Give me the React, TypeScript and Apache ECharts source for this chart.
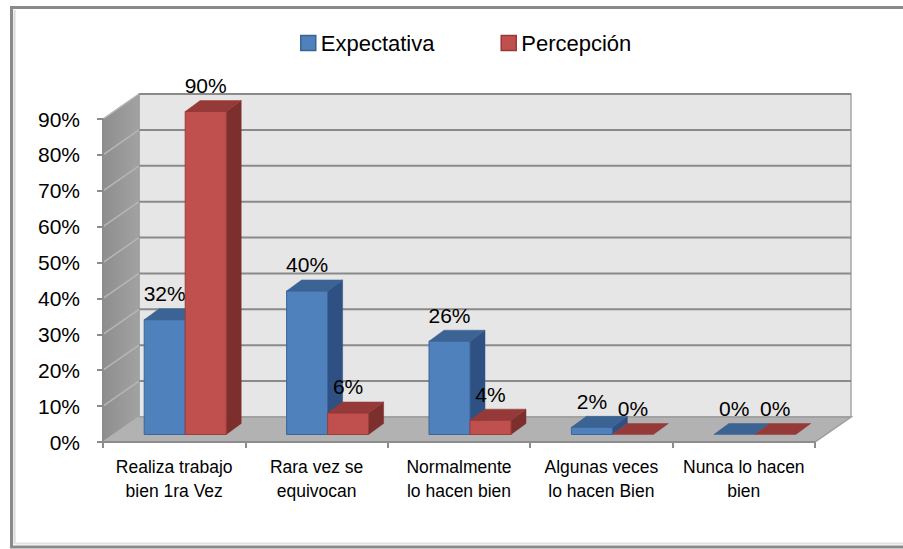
import React, { useEffect, useRef } from 'react';
import * as echarts from 'echarts';

const categories = [
  'Realiza trabajo\nbien 1ra Vez',
  'Rara vez se\nequivocan',
  'Normalmente\nlo hacen bien',
  'Algunas veces\nlo hacen Bien',
  'Nunca lo hacen\nbien',
];
const seriesNames = ['Expectativa', 'Percepción'];
const expectativa = [32, 40, 26, 2, 0];
const percepcion = [90, 6, 4, 0, 0];
const yMin = 0;
const yMax = 90;
const yStep = 10;

const FONT = '"Liberation Sans", Arial, sans-serif';
// 3D geometry (pixels)
const WALL_DX = 36;
const WALL_DY = -25;
const BAR_OFF_X = 11;
const BAR_OFF_Y = -7.5;
const BAR_DX = 15;
const BAR_DY = -11;
const BAR_W_RATIO = 41 / 142.4;
const LABEL_GAP = 26;

const palettes = [
  { front: '#4F81BD', top: '#3B6393', side: '#2F5082', stroke: '#3A659A' },
  { front: '#C0504D', top: '#953A38', side: '#7D2F2D', stroke: '#9B3D3A' },
];

function renderWalls(_params: any, api: any) {
  const band = api.size([1, 0])[0];
  const x0 = api.coord([0, yMin])[0] - band / 2;
  const x1 = api.coord([categories.length - 1, yMin])[0] + band / 2;
  const yB = api.coord([0, yMin])[1];
  const yT = api.coord([0, yMax])[1];
  const children: any[] = [];
  children.push({
    type: 'polygon',
    shape: { points: [[x0 + WALL_DX, yT + WALL_DY], [x1 + WALL_DX, yT + WALL_DY], [x1 + WALL_DX, yB + WALL_DY], [x0 + WALL_DX, yB + WALL_DY]] },
    style: { fill: '#E6E6E6', stroke: '#A8A8A8', lineWidth: 1.5 },
  });
  children.push({
    type: 'polygon',
    shape: { points: [[x0, yT], [x0 + WALL_DX, yT + WALL_DY], [x0 + WALL_DX, yB + WALL_DY], [x0, yB]] },
    style: {
      fill: new echarts.graphic.LinearGradient(0, 0, 1, 0, [
        { offset: 0, color: '#8E8E8E' },
        { offset: 1, color: '#A2A2A2' },
      ]),
      stroke: '#9A9A9A',
      lineWidth: 1,
    },
  });
  children.push({
    type: 'polygon',
    shape: { points: [[x0, yB], [x1, yB], [x1 + WALL_DX, yB + WALL_DY], [x0 + WALL_DX, yB + WALL_DY]] },
    style: { fill: '#B2B2B2', stroke: '#9C9C9C', lineWidth: 1.5 },
  });
  for (let v = yMin; v <= yMax; v += yStep) {
    const y = api.coord([0, v])[1];
    if (v > yMin) {
      children.push({
        type: 'line',
        shape: { x1: x0 + WALL_DX, y1: y + WALL_DY, x2: x1 + WALL_DX, y2: y + WALL_DY },
        style: { stroke: '#8A8A8A', lineWidth: 2 },
      });
    }
    children.push({
      type: 'line',
      shape: { x1: x0, y1: y, x2: x0 + WALL_DX, y2: y + WALL_DY },
      style: { stroke: '#B6B6B6', lineWidth: 1.5 },
    });
  }
  return { type: 'group', children };
}

function makeBarRenderer(sIdx: number) {
  const pal = palettes[sIdx];
  return (_params: any, api: any) => {
    const idx = api.value(0);
    const v = api.value(1);
    const band = api.size([1, 0])[0];
    const w = band * BAR_W_RATIO;
    const base = api.coord([idx, yMin]);
    const top = api.coord([idx, v]);
    const xL = base[0] + BAR_OFF_X + (sIdx === 0 ? -w : 0);
    const xR = xL + w;
    const yB = base[1] + BAR_OFF_Y;
    const yT = top[1] + BAR_OFF_Y;
    const children: any[] = [];
    if (yB - yT > 0.5) {
      children.push({
        type: 'polygon',
        shape: { points: [[xR, yT], [xR + BAR_DX, yT + BAR_DY], [xR + BAR_DX, yB + BAR_DY], [xR, yB]] },
        style: { fill: pal.side, stroke: pal.side, lineWidth: 0.5 },
      });
      children.push({
        type: 'rect',
        shape: { x: xL, y: yT, width: w, height: yB - yT },
        style: { fill: pal.front, stroke: pal.stroke, lineWidth: 1 },
      });
    }
    children.push({
      type: 'polygon',
      shape: { points: [[xL, yT], [xR, yT], [xR + BAR_DX, yT + BAR_DY], [xL + BAR_DX, yT + BAR_DY]] },
      style: { fill: pal.top, stroke: pal.top, lineWidth: 0.5 },
    });
    children.push({
      type: 'text',
      z2: 100,
      style: {
        text: v + '%',
        x: (xL + xR) / 2,
        y: yT - LABEL_GAP,
        align: 'center',
        verticalAlign: 'middle',
        textAlign: 'center',
        textVerticalAlign: 'middle',
        fontSize: 21,
        fontFamily: FONT,
        fill: '#000000',
      },
    });
    return { type: 'group', children };
  };
}

export default function App() {
  const ref = useRef<HTMLDivElement>(null);
  useEffect(() => {
    if (!ref.current) return;
    const chart = echarts.init(ref.current, undefined, { renderer: 'svg' });
    const seriesData = [expectativa, percepcion];
    chart.setOption({
      animation: false,
      backgroundColor: '#FFFFFF',
      textStyle: { fontFamily: FONT },
      grid: { left: 103, right: 88, top: 119, bottom: 107 },
      legend: {
        left: 300,
        top: 31,
        padding: 0,
        icon: 'rect',
        itemWidth: 15,
        itemHeight: 15,
        itemGap: 66,
        textStyle: { fontSize: 22, fontFamily: FONT, color: '#000000', lineHeight: 24 },
        data: seriesNames.map((n, i) => ({
          name: n,
          itemStyle: { color: palettes[i].front, borderColor: palettes[i].top, borderWidth: 1.5 },
        })),
      },
      xAxis: {
        type: 'category',
        data: categories,
        z: 10,
        axisLine: { show: true, lineStyle: { color: '#8C8C8C', width: 2 } },
        axisTick: { show: true, length: 6, lineStyle: { color: '#8C8C8C', width: 2 } },
        axisLabel: { interval: 0, fontSize: 17.5, lineHeight: 24, margin: 13, color: '#000000', fontFamily: FONT },
        splitLine: { show: false },
      },
      yAxis: {
        type: 'value',
        min: yMin,
        max: yMax,
        interval: yStep,
        z: 10,
        axisLine: { show: true, lineStyle: { color: '#8C8C8C', width: 2 } },
        axisTick: { show: true, length: 6, lineStyle: { color: '#8C8C8C', width: 2 } },
        axisLabel: { formatter: '{value}%', fontSize: 21, margin: 23, color: '#000000', fontFamily: FONT },
        splitLine: { show: false },
      },
      graphic: [
        {
          type: 'rect',
          shape: { x: 11.5, y: 7.5, width: 900, height: 539.5 },
          style: { fill: 'none', stroke: '#8A8A8A', lineWidth: 3 },
        },
        {
          type: 'line',
          shape: { x1: 14.5, y1: 10, x2: 14.5, y2: 544 },
          style: { stroke: '#DADADA', lineWidth: 2 },
        },
        {
          type: 'line',
          shape: { x1: 14, y1: 543.5, x2: 903, y2: 543.5 },
          style: { stroke: '#E2E2E2', lineWidth: 2 },
        },
      ],
      series: [
        {
          type: 'custom',
          name: '__walls',
          data: [[0, 0]],
          clip: false,
          silent: true,
          z: 1,
          encode: { x: 0, y: 1 },
          renderItem: renderWalls,
        },
        ...seriesNames.map((n, i) => ({
          type: 'custom',
          name: n,
          data: seriesData[i].map((v, k) => [k, v]),
          clip: false,
          z: 3 + i,
          encode: { x: 0, y: 1 },
          itemStyle: { color: palettes[i].front },
          renderItem: makeBarRenderer(i),
        })),
      ],
    });
    return () => chart.dispose();
  }, []);
  return (
    <div
      ref={ref}
      style={{ position: 'absolute', left: 0, top: 0, width: 903, height: 549 }}
    />
  );
}
